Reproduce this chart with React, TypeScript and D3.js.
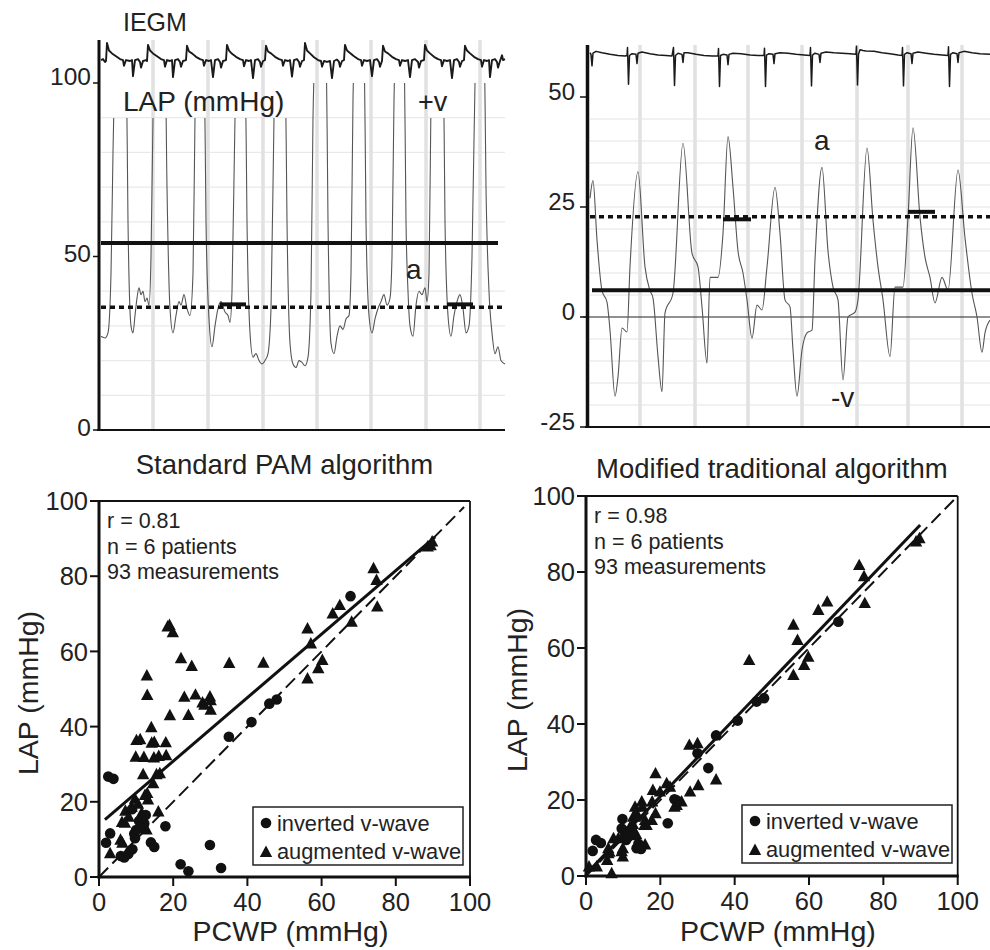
import React from 'react';
import * as d3 from 'd3';

const FONT = '"Liberation Sans", Arial, Helvetica, sans-serif';

// ---------- Top-left trace (standard PAM example) ----------
// [time sample, LAP mmHg]
const lapLeft: [number, number][] = [
  [0,27],[4,26.5],[7,28],[10,45],[12,80],[15,112],[20,125],[25,112],[27,60],[30,30],[32,28],[34,33],[36,38],[38,41],[40,39],[42,40],[44,37],[46,38],[48,36],
  [50,50],[52,90],[54,112],[59,125],[64,112],[66,70],[69,35],[72,28],[75,33],[78,37],[80,36],[83,39],[86,35],[89,33],
  [92,45],[94,90],[96,115],[99,125],[103,112],[105,60],[108,32],[111,24],[114,30],[117,35],[120,37],[124,34],[127,33],[129,31],
  [131,40],[134,90],[136,115],[140,125],[144,112],[146,60],[149,28],[152,21],[155,22],[158,20],[161,19],[164,20],[167,22],
  [170,35],[173,90],[175,115],[180,125],[184,112],[186,60],[189,25],[192,19],[195,18],[198,20],[201,19.5],[204,18.5],[207,21],
  [210,40],[212,90],[215,115],[220,128],[225,115],[227,60],[230,25],[233,22],[236,27],[239,30],[242,29],[245,32],[248,33],
  [250,45],[252,95],[254,115],[258,128],[263,115],[265,60],[268,33],[271,28],[274,32],[277,35],[280,37],[283,39],[286,36],[289,38],
  [291,50],[293,95],[295,115],[299,128],[303,115],[305,60],[307,40],[309,30],[312,27],[315,36],[318,40],[321,39],[324,41],[326,37],
  [328,45],[330,95],[332,115],[337,128],[342,115],[344,60],[347,33],[350,27],[353,33],[356,37],[359,39],[362,35],[365,28],[368,30],
  [371,50],[374,100],[377,118],[380,130],[383,118],[385,70],[388,40],[391,28],[394,22],[397,24],[400,20],[404,19]
];

// [time sample, mV]
const iegmLeft: [number, number][] = [
  [0,0.05],[2,0.1],[4,-0.05],[5,0.0],
  [6,0.95],[8,0.55],[11,0.4],[15,0.25],[19,0.1],[22,0.05],[23,-0.25],[25,0.05],[29,0.0],[31,0.05],[32,-0.8],[34,0.05],[37,0.1],[39,-0.05],[40,-0.35],[42,0.0],[45,0.05],[46,0.0],
  [47,0.85],[49,0.55],[52,0.4],[56,0.25],[60,0.1],[63,0.05],[64,-0.3],[66,0.05],[69,0.0],[71,0.05],[72,-0.85],[74,0.05],[77,0.1],[79,-0.05],[80,-0.3],[82,0.0],[85,0.05],
  [86,0.8],[88,0.5],[91,0.4],[95,0.22],[99,0.1],[102,0.05],[103,-0.25],[105,0.05],[108,0.0],[110,0.05],[112,-0.85],[114,0.05],[117,0.1],[119,-0.05],[120,-0.35],[122,0.0],[125,0.05],
  [126,0.85],[128,0.55],[131,0.38],[135,0.22],[139,0.1],[142,0.05],[143,-0.28],[145,0.05],[148,0.0],[150,0.05],[152,-0.9],[154,0.05],[157,0.1],[159,-0.05],[160,-0.3],[162,0.0],[164,0.05],
  [165,0.8],[167,0.5],[170,0.4],[174,0.22],[178,0.1],[181,0.05],[182,-0.25],[184,0.05],[187,0.0],[189,0.05],[191,-0.82],[193,0.05],[196,0.1],[198,-0.05],[199,-0.3],[201,0.0],[203,0.05],
  [204,0.95],[206,0.55],[209,0.4],[213,0.2],[217,0.05],[220,0.0],[221,-0.3],[223,0.0],[226,-0.05],[229,0.0],[231,-0.9],[233,0.0],[236,0.08],[238,-0.05],[239,-0.3],[241,0.0],[243,0.05],
  [244,0.85],[246,0.55],[249,0.42],[253,0.25],[257,0.1],[260,0.05],[261,-0.25],[263,0.05],[266,0.0],[269,0.05],[271,-0.8],[273,0.05],[276,0.1],[278,-0.05],[279,-0.3],[281,0.0],
  [282,0.8],[284,0.5],[287,0.4],[291,0.22],[295,0.1],[298,0.05],[299,-0.25],[301,0.05],[304,0.0],[307,0.05],[309,-0.85],[311,0.05],[314,0.1],[317,-0.05],[318,-0.35],[320,0.0],[323,0.05],
  [324,0.85],[326,0.55],[329,0.4],[333,0.22],[337,0.1],[340,0.05],[341,-0.28],[343,0.05],[346,0.0],[349,0.05],[351,-0.9],[353,0.05],[356,0.1],[358,-0.05],[359,-0.3],[361,0.0],[363,0.05],
  [364,0.8],[366,0.55],[369,0.4],[373,0.22],[377,0.1],[380,0.05],[381,-0.3],[383,0.05],[386,0.0],[388,0.05],[389,-0.85],[391,0.05],[394,0.1],[396,-0.05],[397,-0.35],[399,0.0],[401,0.3],[402,0.05],[404,0.1]
];

// ---------- Top-right trace (modified algorithm example) ----------
const lapRight: [number, number][] = [
  [0,27],[3,31],[7,17.5],[12,6],[17,3.4],[20,-3],[25,-18],[28,-13.6],[32,-2.5],[37,-3.4],[40,11.4],[48,33],[55,11.4],[60,6],[63,4.3],
  [68,-9],[72,-17],[75,0.9],[83,5.4],[93,39.5],[102,14.5],[108,11.4],[112,2.3],[117,-10.5],[120,9],[128,9],[133,19],[138,41],[143,29.5],
  [148,15],[153,10],[157,3.9],[162,-4.8],[167,2.7],[172,1.6],[177,11.4],[185,29.5],[190,19],[195,3.9],[200,2.3],[203,-7.5],[207,-18],
  [212,-7.5],[217,-3.6],[222,-3],[225,13],[232,34],[238,15],[243,6.8],[248,3.9],[253,-14.3],[258,0],[265,1.1],[268,3.9],[277,38.4],
  [283,22],[288,11.4],[293,3.9],[300,-9],[305,6.8],[313,6.8],[318,22.7],[323,43],[330,22.7],[335,13.6],[340,9],[345,3.2],[352,9],
  [358,6.1],[368,33.4],[375,18],[382,5.4],[387,0],[392,-8],[395,-3.6],[400,-0.7]
];

const iegmRight: [number, number][] = [
  [0,0.62],[1,0.55],[2,0.05],[3,0.6],[6,0.68],[12,0.62],[20,0.55],[28,0.5],[35,0.48],[37,0.5],[37.5,0.85],[38.5,-0.75],[39.5,0.5],[42,0.58],[46,0.55],[47,0.15],[48,0.6],
  [52,0.65],[60,0.58],[68,0.52],[76,0.5],[82,0.48],[83.5,0.85],[84.5,-0.8],[85.5,0.5],[88,0.6],[92,0.55],[93,0.2],[94,0.62],
  [98,0.62],[106,0.55],[114,0.5],[122,0.48],[128,0.48],[128.5,0.8],[129.5,-0.85],[130.5,0.5],[133,0.55],[137,0.52],[138,0.1],[139,0.55],
  [143,0.6],[151,0.58],[160,0.52],[168,0.5],[174,0.5],[174.5,0.82],[175.5,-0.85],[176.5,0.52],[179,0.58],[183,0.55],[184,0.15],[185,0.58],
  [190,0.62],[198,0.6],[206,0.55],[214,0.52],[220,0.5],[220.5,0.85],[221.5,-0.82],[222.5,0.52],[225,0.6],[229,0.55],[230,0.2],[231,0.6],
  [236,0.65],[244,0.62],[252,0.6],[260,0.58],[266,0.55],[266.5,0.9],[267.5,-0.78],[268.5,0.55],[270,0.75],[273,0.72],[276,0.7],
  [284,0.68],[292,0.62],[300,0.58],[308,0.52],[312,0.5],[312.5,0.85],[313.5,-0.82],[314.5,0.55],[317,0.62],[321,0.58],[322,0.15],[323,0.6],
  [328,0.65],[336,0.6],[344,0.55],[352,0.52],[358,0.5],[358.5,0.88],[359.5,-0.85],[360.5,0.55],[363,0.62],[367,0.58],[368,0.2],[369,0.62],
  [374,0.68],[382,0.62],[390,0.58],[400,0.55]
];

const gridTimesLeft = [52, 107, 162, 216, 270, 325, 379];
const gridLevelsLeft = [10, 20, 30, 40, 60, 70, 80, 90];
const gridTimesRight = [50, 105, 158, 212, 267, 318, 372];
const gridLevelsRight = [-20, -15, -10, -5, 5, 10, 15, 20, 25, 30, 35, 40, 45];
const ticksTopLeft = [0, 50, 100];
const ticksTopRight = [-25, 0, 25, 50];

// reference levels [mmHg] and their time spans
const meanLeft = { v: 53.9, t0: 0, t1: 397 };
const dashLeft = { v: 35.4, t0: 0, t1: 404 };
const segsLeft = [{ v: 36.2, t0: 119, t1: 145 }, { v: 36.2, t0: 346, t1: 372 }];
const meanRight = { v: 6.1, t0: 2, t1: 400 };
const dashRight = { v: 22.8, t0: 0, t1: 400 };
const segsRight = [{ v: 22.2, t0: 133, t1: 161 }, { v: 23.9, t0: 318, t1: 345 }];

// ---------- Scatter data [PCWP, LAP] ----------
const circlesStd: [number, number][] = [
  [2.5,26.7],[3.9,26.1],[1.9,9.1],[3,11.6],[5.9,5.6],[6.8,5.2],[7.9,6.1],[9,7.4],[8.9,18],[9.7,10.3],[9.5,11.5],[10,12.5],[11,13],
  [10.8,14.9],[11.7,15.6],[12.2,14.2],[12.6,16.5],[14,9.2],[14.9,8],[17.9,13.5],[22,3.4],[24.1,1.5],[29.9,8.5],[32.9,2.4],
  [35,37.3],[41.1,41.2],[45.9,46.1],[47.9,47.2],[67.8,74.7]
];
const trianglesStd: [number, number][] = [
  [3.0,6.3],[5.8,9.9],[6.3,9.1],[6.2,14.6],[7.0,14.4],[7.1,17.6],[8,16],[8.8,18.7],[9.7,20.8],[10.5,19.5],[11.5,17],[9.9,32],[10.1,36.4],
  [11.1,36.6],[12.1,31.9],[11.9,27.3],[12.9,53.6],[13,48.4],[13,22.3],[12.4,21.8],[13.2,20.6],[12.8,12.6],[14.1,39.8],[14.2,35.7],[14.9,35.9],
  [14.8,31.8],[14.6,24.9],[15.5,27.3],[16,17.4],[16.1,32.2],[16.4,27.6],[18,35.8],[18.1,32.4],[19.1,43],[18.5,66.6],[19,67],[19.9,65.1],
  [22.1,58.2],[23,47.9],[24.1,43.1],[25,56.1],[26,48.5],[27.9,46.4],[28.4,45.8],[29.9,48],[30.1,47],[30.1,44.5],[35.1,56.9],[44.3,57],
  [56.2,66.1],[56.2,52.8],[57.1,62.1],[59.1,55.5],[60.2,57.7],[63,70.1],[64.9,72.3],[68.1,67.9],[74,82.1],[74.8,79],[75,71.9],
  [88.6,87.9],[89.8,89.2],[89.4,88.2]
];
const circlesMod: [number, number][] = [
  [1.8,6.6],[2.7,9.5],[4,8.7],[9.8,15],[9.6,12.5],[10.5,11.2],[10.8,9.5],[11.4,10.3],[12,12],[12.8,10.8],[13.6,7.3],[14.8,7.1],[14.1,8.5],
  [22,13.9],[23.8,20.2],[24.4,19.9],[30,32.3],[32.9,28.4],[35,37],[40.8,40.9],[45.9,45.9],[47.9,46.8],[67.9,66.9]
];
const trianglesMod: [number, number][] = [
  [0.8,2.5],[2.9,2.5],[6.9,0.7],[5.7,4.2],[6.3,6.4],[6,6],[6,7.3],[7.4,9.9],[8.7,9.9],[9.9,5.1],[9.9,7.3],[9.6,6.5],[11,11.5],[13.5,11],
  [11.8,12.8],[12.6,13.7],[12.7,15.6],[13.6,16.5],[13.2,18.2],[15,19.6],[15.2,18.2],[15.7,13.4],[15.9,14.7],[16.3,13.4],[15.9,8.3],
  [17.7,14.7],[18,22.6],[17.8,19.6],[18.7,16.5],[18.7,27],[19.9,22.2],[21.7,24.4],[22.6,23.5],[23.8,18.2],[24.4,18.7],[25.7,19.6],
  [28,22.2],[27.8,34.5],[30,34.9],[30.2,23.9],[35,25.4],[43.9,56.8],[55.8,66.1],[55.8,52.9],[56.9,62.1],[58.7,55.5],[59.8,57.7],
  [62.5,70],[64.9,72.2],[73.5,81.8],[74.8,78.9],[75,71.8],[88.8,88],[89.7,88.9]
];

const regStd = { slope: 0.845, intercept: 13.9, x0: 1.6, x1: 90.6 };
const regMod = { slope: 1.022, intercept: 0.5, x0: 0.2, x1: 89.9 };
const identityStd = [0, 98.4];
const identityMod = [0, 100];

const statsStd = ['r = 0.81', 'n = 6 patients', '93 measurements'];
const statsMod = ['r = 0.98', 'n = 6 patients', '93 measurements'];
const legendLabels = ['inverted v-wave', 'augmented v-wave'];
const scatterTicks = [0, 20, 40, 60, 80, 100];

const tri = (x: number, y: number, s = 6.2) =>
  `M${x},${y - s * 1.05}L${x + s},${y + s * 0.8}L${x - s},${y + s * 0.8}Z`;

function Scatter({ left, right, top, bottom, title, titleY, circles, triangles, reg, identity, stats, legendBox, axisTitleX }: any) {
  const sx = d3.scaleLinear().domain([0, 100]).range([left, right]);
  const sy = d3.scaleLinear().domain([0, 100]).range([bottom, top]);
  const [lx, ly, lw, lh] = legendBox;
  return (
    <g>
      <text x={(left + right) / 2} y={titleY} textAnchor="middle" fontSize={27.5} fill="#222">{title}</text>
      <line x1={left} y1={top} x2={right} y2={top} stroke="#111" strokeWidth={2} />
      <line x1={right} y1={top} x2={right} y2={bottom} stroke="#111" strokeWidth={1.8} />
      <line x1={left} y1={top - 1} x2={left} y2={bottom + 1.5} stroke="#111" strokeWidth={3} />
      <line x1={left - 1.5} y1={bottom} x2={right + 1} y2={bottom} stroke="#111" strokeWidth={3} />
      {scatterTicks.map((t) => (
        <g key={'t' + t}>
          <line x1={left - 9} x2={left} y1={sy(t)} y2={sy(t)} stroke="#111" strokeWidth={2} />
          <text x={left - 11} y={sy(t)} dy="0.36em" textAnchor="end" fontSize={25.5} fill="#222">{t}</text>
          <line x1={sx(t)} x2={sx(t)} y1={bottom} y2={bottom + 9} stroke="#111" strokeWidth={2} />
          <text x={sx(t)} y={bottom + 25} dy="0.36em" textAnchor="middle" fontSize={25.5} fill="#222">{t}</text>
        </g>
      ))}
      <text transform={`translate(${axisTitleX},${(top + bottom) / 2 + 4}) rotate(-90)`} textAnchor="middle" dy="0.36em" fontSize={28.5} fill="#222">LAP (mmHg)</text>
      <text x={(left + right) / 2 + 6} y={931} dy="0.36em" textAnchor="middle" fontSize={28.5} fill="#222">PCWP (mmHg)</text>
      {stats.map((s: string, i: number) => (
        <text key={s} x={left + 8} y={top + 27 + i * 25.5} fontSize={21.5} fill="#222">{s}</text>
      ))}
      <line x1={sx(identity[0])} y1={sy(identity[0])} x2={sx(identity[1])} y2={sy(identity[1])} stroke="#111" strokeWidth={2} strokeDasharray="13,6" />
      <line x1={sx(reg.x0)} y1={sy(reg.intercept + reg.slope * reg.x0)} x2={sx(reg.x1)} y2={sy(reg.intercept + reg.slope * reg.x1)} stroke="#111" strokeWidth={3} />
      {triangles.map((d: number[], i: number) => (
        <path key={'tr' + i} d={tri(sx(d[0]), sy(d[1]))} fill="#111" />
      ))}
      {circles.map((d: number[], i: number) => (
        <circle key={'c' + i} cx={sx(d[0])} cy={sy(d[1])} r={5.3} fill="#111" />
      ))}
      <rect x={lx} y={ly} width={lw} height={lh} fill="#fff" stroke="#222" strokeWidth={1.5} />
      <circle cx={lx + 13} cy={ly + 16} r={5.3} fill="#111" />
      <path d={tri(lx + 13, ly + 45)} fill="#111" />
      <text x={lx + 24} y={ly + 16} dy="0.36em" fontSize={21.8} fill="#222">{legendLabels[0]}</text>
      <text x={lx + 24} y={ly + 44} dy="0.36em" fontSize={21.8} fill="#222">{legendLabels[1]}</text>
    </g>
  );
}

export default function App() {
  // top-left scales
  const tL = d3.scaleLinear().domain([0, 404]).range([101, 505]);
  const yL = d3.scaleLinear().domain([0, 100]).range([430, 83]);
  const eL = d3.scaleLinear().domain([-1, 1]).range([80, 42]);
  // top-right scales
  const tR = d3.scaleLinear().domain([0, 400]).range([590, 990]);
  const yR = d3.scaleLinear().domain([-25, 50]).range([427, 97]);
  const eR = d3.scaleLinear().domain([-1, 1]).range([90, 44]);

  const lapLineL = d3.line<[number, number]>().x((d) => tL(d[0])).y((d) => yL(d[1])).curve(d3.curveMonotoneX);
  const iegmLineL = d3.line<[number, number]>().x((d) => tL(d[0])).y((d) => eL(d[1]));
  const lapLineR = d3.line<[number, number]>().x((d) => tR(d[0])).y((d) => yR(d[1])).curve(d3.curveMonotoneX);
  const iegmLineR = d3.line<[number, number]>().x((d) => tR(d[0])).y((d) => eR(d[1]));

  return (
    <div style={{ position: 'absolute', left: 0, top: 0 }}>
      <svg width={990} height={950} style={{ display: 'block', background: '#fff', fontFamily: FONT }}>
        <defs>
          <clipPath id="lapClipL">
            <rect x={100} y={118} width={406} height={313} />
            <rect x={100} y={yL(100)} width={10} height={36} />
            <rect x={292} y={yL(100)} width={122} height={36} />
            <rect x={450} y={yL(100)} width={56} height={36} />
          </clipPath>
        </defs>

        {/* ===== Top-left panel ===== */}
        {gridLevelsLeft.map((v) => (
          <line key={'gl' + v} x1={101} x2={505} y1={yL(v)} y2={yL(v)} stroke="#e9e9e9" strokeWidth={1.3} />
        ))}
        {gridTimesLeft.map((t) => (
          <line key={'gt' + t} x1={tL(t)} x2={tL(t)} y1={40} y2={429} stroke="#e1e1e1" strokeWidth={3.5} />
        ))}
        <path d={iegmLineL(iegmLeft) || ''} fill="none" stroke="#1a1a1a" strokeWidth={1.9} strokeLinejoin="round" />
        <path d={lapLineL(lapLeft) || ''} fill="none" stroke="#555" strokeWidth={1.1} clipPath="url(#lapClipL)" />
        <line x1={tL(meanLeft.t0)} x2={tL(meanLeft.t1)} y1={yL(meanLeft.v)} y2={yL(meanLeft.v)} stroke="#111" strokeWidth={4} />
        <line x1={tL(dashLeft.t0)} x2={tL(dashLeft.t1)} y1={yL(dashLeft.v)} y2={yL(dashLeft.v)} stroke="#111" strokeWidth={3.5} strokeDasharray="5,4" />
        {segsLeft.map((s, i) => (
          <line key={'sl' + i} x1={tL(s.t0)} x2={tL(s.t1)} y1={yL(s.v)} y2={yL(s.v)} stroke="#111" strokeWidth={4} />
        ))}
        <line x1={99} x2={99} y1={40} y2={431} stroke="#111" strokeWidth={3} />
        <line x1={97} x2={505} y1={430} y2={430} stroke="#111" strokeWidth={2.2} />
        {ticksTopLeft.map((v) => (
          <g key={'ttl' + v}>
            <line x1={93} x2={99} y1={yL(v)} y2={yL(v)} stroke="#111" strokeWidth={1.5} />
            <text x={91} y={yL(v) - (v === 100 ? 7 : 3)} dy="0.36em" textAnchor="end" fontSize={24.5} fill="#222">{v}</text>
          </g>
        ))}
        <text x={123} y={31} fontSize={25} fill="#222">IEGM</text>
        <text x={123} y={111} fontSize={28} fill="#222">LAP (mmHg)</text>
        <text x={418} y={111} fontSize={27} fill="#222">+v</text>
        <text x={406} y={279} fontSize={28} fill="#222">a</text>

        {/* ===== Top-right panel ===== */}
        {gridLevelsRight.map((v) => (
          <line key={'gr' + v} x1={590} x2={990} y1={yR(v)} y2={yR(v)} stroke="#ececec" strokeWidth={1.3} />
        ))}
        {gridTimesRight.map((t) => (
          <line key={'gtr' + t} x1={tR(t)} x2={tR(t)} y1={45} y2={426} stroke="#e1e1e1" strokeWidth={3.5} />
        ))}
        <line x1={583} x2={990} y1={yR(0)} y2={yR(0)} stroke="#222" strokeWidth={1.2} />
        <path d={iegmLineR(iegmRight) || ''} fill="none" stroke="#1a1a1a" strokeWidth={1.5} strokeLinejoin="round" />
        <path d={lapLineR(lapRight) || ''} fill="none" stroke="#555" strokeWidth={1.1} />
        <line x1={tR(meanRight.t0)} x2={tR(meanRight.t1)} y1={yR(meanRight.v)} y2={yR(meanRight.v)} stroke="#111" strokeWidth={4} />
        <line x1={tR(dashRight.t0)} x2={tR(dashRight.t1)} y1={yR(dashRight.v)} y2={yR(dashRight.v)} stroke="#111" strokeWidth={3.5} strokeDasharray="5,4" />
        {segsRight.map((s, i) => (
          <line key={'sr' + i} x1={tR(s.t0)} x2={tR(s.t1)} y1={yR(s.v)} y2={yR(s.v)} stroke="#111" strokeWidth={4} />
        ))}
        <line x1={587.5} x2={587.5} y1={45} y2={428} stroke="#111" strokeWidth={3.5} />
        <line x1={585} x2={990} y1={427} y2={427} stroke="#111" strokeWidth={2.2} />
        {ticksTopRight.map((v) => (
          <g key={'ttr' + v}>
            <line x1={580} x2={588} y1={yR(v)} y2={yR(v)} stroke="#111" strokeWidth={1.5} />
            <text x={575} y={yR(v) - 6} dy="0.36em" textAnchor="end" fontSize={24} fill="#222">{v}</text>
          </g>
        ))}
        <text x={814} y={150} fontSize={28} fill="#222">a</text>
        <text x={831} y={407} fontSize={28} fill="#222">-v</text>

        {/* ===== Bottom scatter plots ===== */}
        <Scatter left={99} right={470} top={501} bottom={877} title="Standard PAM algorithm" titleY={474}
          circles={circlesStd} triangles={trianglesStd} reg={regStd} identity={identityStd} stats={statsStd}
          legendBox={[253, 807, 210, 58]} axisTitleX={28} />
        <Scatter left={586} right={957.7} top={496} bottom={876} title="Modified traditional algorithm" titleY={478}
          circles={circlesMod} triangles={trianglesMod} reg={regMod} identity={identityMod} stats={statsMod}
          legendBox={[742, 805, 210, 58]} axisTitleX={517} />
      </svg>
    </div>
  );
}
